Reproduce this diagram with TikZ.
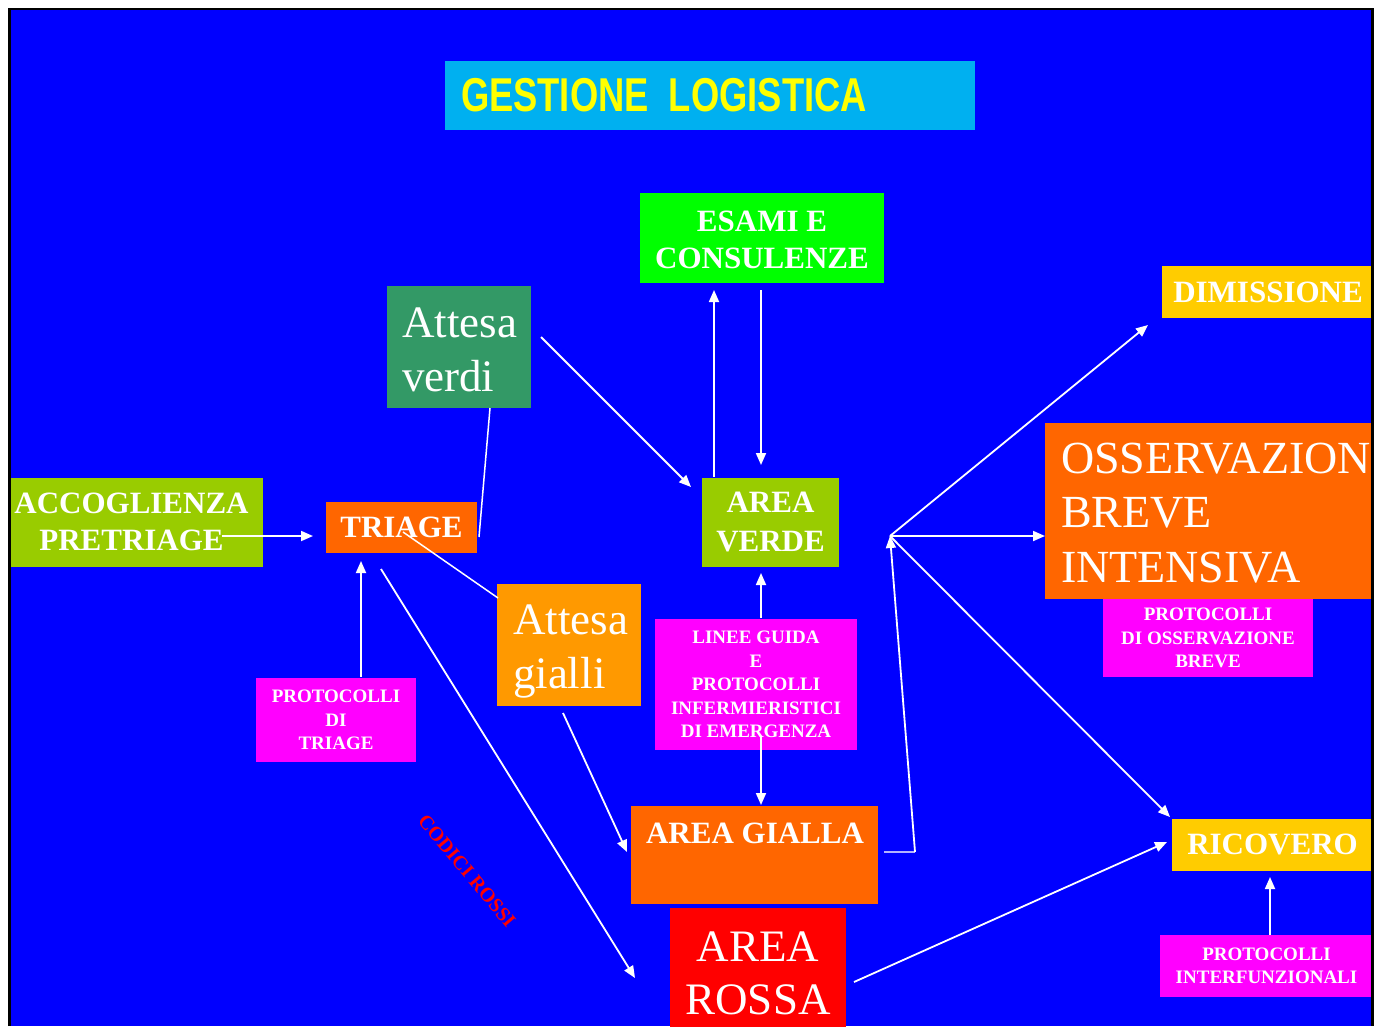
\documentclass[tikz,border=0pt]{standalone}
\usepackage{graphicx}
\usepackage{fontspec}
\setmainfont{Liberation Serif}
\newfontfamily\titlefont{Liberation Sans}
\usetikzlibrary{arrows.meta,calc}

\definecolor{panelblue}{RGB}{0,0,255}
\definecolor{titlecyan}{RGB}{0,176,240}
\definecolor{titleyellow}{RGB}{255,255,0}
\definecolor{brightgreen}{RGB}{0,255,0}
\definecolor{seagreen}{RGB}{51,153,102}
\definecolor{limegreen}{RGB}{153,204,0}
\definecolor{orangebox}{RGB}{255,102,0}
\definecolor{amberbox}{RGB}{255,153,0}
\definecolor{magentabox}{RGB}{255,0,255}
\definecolor{goldbox}{RGB}{255,204,0}
\definecolor{redbox}{RGB}{255,0,0}

\begin{document}
\begin{tikzpicture}[x=1pt,y=-1pt,
  box/.style={rectangle, inner sep=0pt, outer sep=0pt, text=white, align=center},
  bigb/.style={font=\fontsize{31}{37}\selectfont\bfseries},
  smallb/.style={font=\fontsize{19}{23.5}\selectfont\bfseries},
  bigr/.style={font=\fontsize{45}{54}\selectfont},
  txt/.style={inner sep=0pt, outer sep=0pt, text=white, align=left},
  conn/.style={draw=white, line width=1.8pt, -{Triangle[length=12pt,width=10pt]}},
  link/.style={draw=white, line width=1.5pt},
]
\useasboundingbox (0,0) rectangle (1383,1026);
\fill[white] (0,0) rectangle (1383,1026);
\fill[panelblue] (9.5,8.75) rectangle (1372.5,1026);

\begin{scope}
\clip (10,10) rectangle (1371.5,1026);

% title
\node[box, fill=titlecyan, minimum width=530pt, minimum height=69pt] (title) at (710,95.5) {};
\node[txt, anchor=base west, text=titleyellow,
      font=\fontsize{47.5}{57}\selectfont\titlefont\bfseries] (titletext) at (461,111)
      {\scalebox{0.765}[1]{GESTIONE\ \ LOGISTICA}};

% boxes with centred text
\node[box, fill=brightgreen, minimum width=244pt, minimum height=90pt] (esami) at (762,238) {};
\node[box, bigb] (esamitext) at (762,240) {ESAMI E\\CONSULENZE};
\node[box, bigb, fill=limegreen, minimum width=263pt, minimum height=89pt] (accog) at (131.5,522) {ACCOGLIENZA\\PRETRIAGE};
\node[box, bigb, fill=orangebox, minimum width=151pt, minimum height=51pt] (triage) at (401.5,527) {TRIAGE};
\node[box, font=\fontsize{31}{39}\selectfont\bfseries, fill=limegreen, minimum width=137pt, minimum height=89pt] (verde) at (770.5,522) {AREA\\VERDE};
\node[box, smallb, fill=magentabox, minimum width=202pt, minimum height=131pt] (linee) at (756,684.5) {LINEE GUIDA\\E\\PROTOCOLLI\\INFERMIERISTICI\\DI EMERGENZA};
\node[box, smallb, fill=magentabox, minimum width=160pt, minimum height=84pt] (prottri) at (336,720) {PROTOCOLLI\\DI\\TRIAGE};
\node[box, font=\fontsize{45}{53}\selectfont, fill=redbox, minimum width=176pt, minimum height=131pt] (rossa) at (758,973.5) {AREA\\ROSSA};
\node[box, bigb, fill=goldbox, minimum width=213pt, minimum height=52pt] (dimis) at (1268,292) {DIMISSIONE};
\node[box, bigb, fill=goldbox, minimum width=201pt, minimum height=52pt] (ricov) at (1272.5,844.5) {RICOVERO};
\node[box, smallb, fill=magentabox, minimum width=213pt, minimum height=62pt] (protint) at (1266.5,966) {PROTOCOLLI\\INTERFUNZIONALI};

% boxes with left-aligned or raised text
\node[box, fill=seagreen, minimum width=144pt, minimum height=122pt] (attv) at (459,347) {};
\node[txt, bigr, anchor=west] (attvtext) at (402,350) {Attesa\\verdi};
\node[box, fill=amberbox, minimum width=144pt, minimum height=122pt] (attg) at (569,645) {};
\node[txt, bigr, anchor=west] (attgtext) at (513,651.4) {Attesa\\gialli};
\node[box, fill=orangebox, minimum width=247pt, minimum height=98pt] (gialla) at (754.5,855) {};
\node[txt, bigb, anchor=base] (giallatext) at (755,843) {AREA GIALLA};
\node[box, fill=orangebox, minimum width=330pt, minimum height=176pt] (oss) at (1210,511) {};
\node[txt, font=\fontsize{46}{54.5}\selectfont, anchor=west] (osstext) at (1061,513) {OSSERVAZIONE\\BREVE\\INTENSIVA};
\node[box, smallb, fill=magentabox, minimum width=210pt, minimum height=78pt] (protoss) at (1208,638) {PROTOCOLLI\\DI OSSERVAZIONE\\BREVE};

% label along the red-code path
\node[inner sep=0pt, text=redbox, font=\fontsize{20}{24}\selectfont\bfseries, rotate=-50] (codici) at (467,871) {CODICI ROSSI};

% connector end points
\coordinate (accogout) at (222,536);
\coordinate (triagein) at (313,536);
\coordinate (attvlow) at (490,408);
\coordinate (triagetop) at (479,537);
\coordinate (attvout) at (541,337);
\coordinate (verdein) at (691,487);
\coordinate (verdeup) at (714,477);
\coordinate (esamiin) at (714,290);
\coordinate (esamiout) at (761,290);
\coordinate (verdetop) at (761,465);
\coordinate (lineetop) at (761,618);
\coordinate (verdelow) at (761,573);
\coordinate (lineelow) at (761,737);
\coordinate (giallatop) at (761,805);
\coordinate (triagemid) at (403,532);
\coordinate (attgcorner) at (498,598);
\coordinate (prottritop) at (361,677);
\coordinate (triagelow) at (361,561);
\coordinate (triagerossi) at (381,569);
\coordinate (rossain) at (635,978);
\coordinate (attgout) at (563,713);
\coordinate (giallain) at (627,852);
\coordinate (giallaright) at (884,852);
\coordinate (bracket) at (915,852);
\coordinate (hub) at (890,536);
\coordinate (dimisin) at (1148,325);
\coordinate (ossin) at (1045,536);
\coordinate (ricovin) at (1170,817);
\coordinate (rossaout) at (854,982);
\coordinate (ricovleft) at (1167,842);
\coordinate (protinttop) at (1270,935);
\coordinate (ricovlow) at (1270,877);

% connectors
\draw[conn] (accogout) -- (triagein);
\draw[link] (attvlow) -- (triagetop);
\draw[conn] (attvout) -- (verdein);
\draw[conn] (verdeup) -- (esamiin);
\draw[conn] (esamiout) -- (verdetop);
\draw[conn] (lineetop) -- (verdelow);
\draw[conn] (lineelow) -- (giallatop);
\draw[link] (triagemid) -- (attgcorner);
\draw[conn] (prottritop) -- (triagelow);
\draw[conn] (triagerossi) -- (rossain);
\draw[conn] (attgout) -- (giallain);
\draw[draw=white!70!panelblue, line width=1.8pt] (giallaright) -- (bracket);
\draw[conn] (bracket) -- (hub);
\draw[conn] (hub) -- (dimisin);
\draw[conn] (hub) -- (ossin);
\draw[conn] (hub) -- (ricovin);
\draw[conn] (rossaout) -- (ricovleft);
\draw[conn] (protinttop) -- (ricovlow);
\end{scope}

% frame
\draw[black, line width=2.5pt] (9.5,1026) -- (9.5,8.75) -- (1372.5,8.75) -- (1372.5,1026);
\end{tikzpicture}
\end{document}
